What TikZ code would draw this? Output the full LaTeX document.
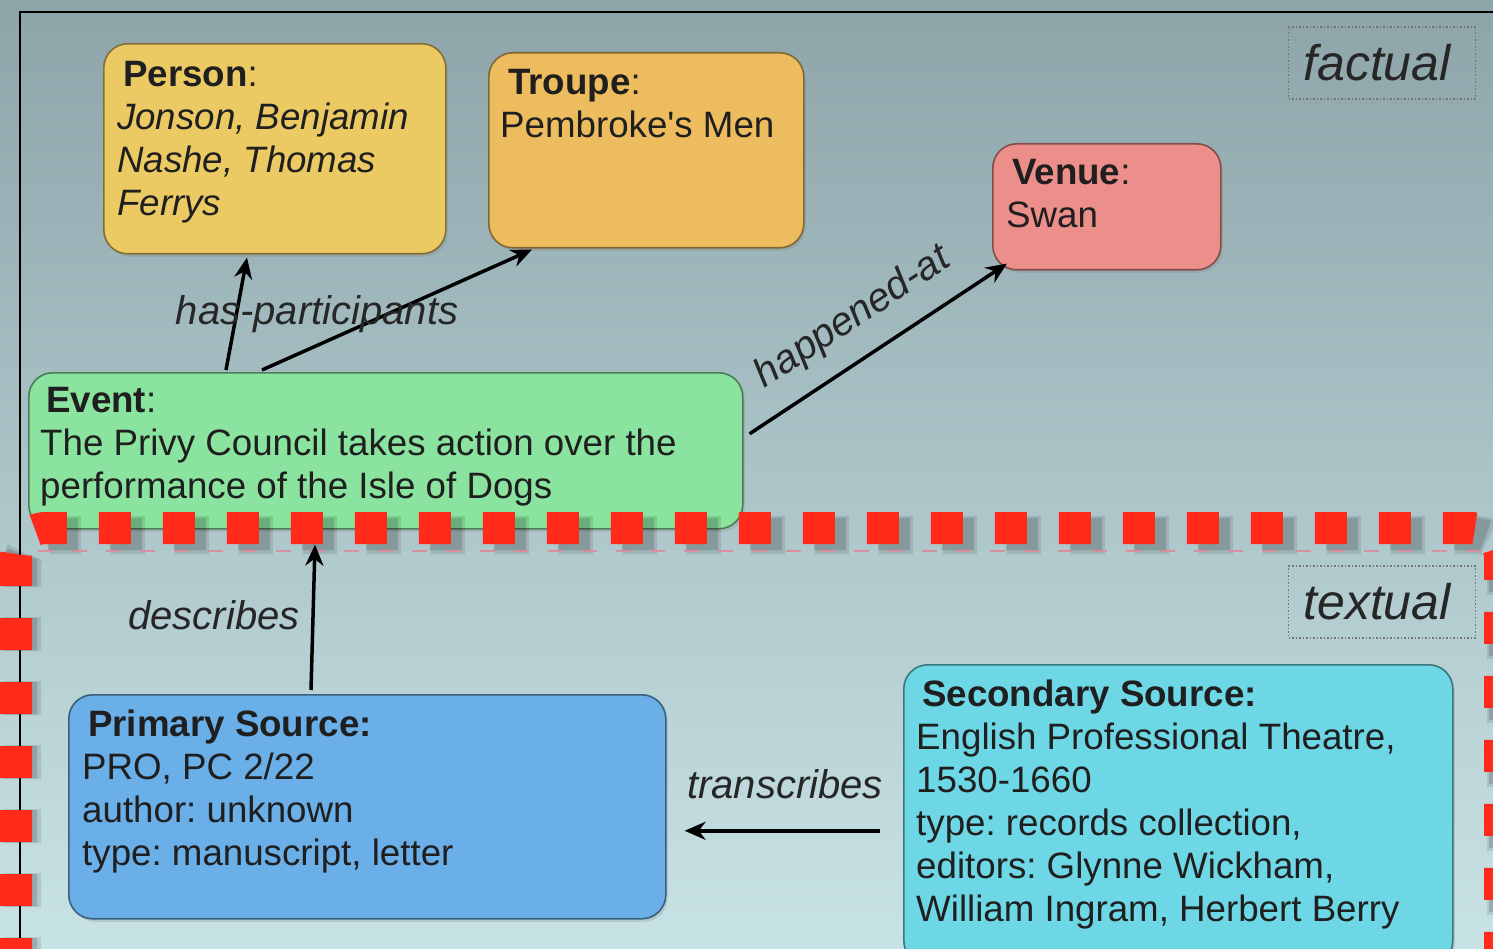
\documentclass[tikz,border=0pt]{standalone}
\usepackage{fontspec}
\setmainfont{Liberation Sans}
\usetikzlibrary{arrows.meta,shadows,calc}
\definecolor{bgtop}{HTML}{8DA4A9}
\definecolor{bgbot}{HTML}{C8E3E6}
\definecolor{personfill}{HTML}{EBCA63}
\definecolor{troupefill}{HTML}{ECBC5E}
\definecolor{venuefill}{HTML}{EC8E8A}
\definecolor{eventfill}{HTML}{8AE39E}
\definecolor{primfill}{HTML}{6AAFE8}
\definecolor{secfill}{HTML}{6DD7E5}
\definecolor{redline}{HTML}{FF2A1A}
\definecolor{pinkline}{HTML}{D9909E}
\frenchspacing
\begin{document}
\begin{tikzpicture}[x=1pt,y=-1pt,
  box/.style={draw=#1!55!black, fill=#1, line width=1.6pt, rounded corners=24pt,
    anchor=north west, inner sep=0pt,
    drop shadow={shadow xshift=2pt, shadow yshift=-3pt, opacity=0.25}},
  txt/.style={anchor=north west, inner sep=0pt, align=left,
    font=\fontsize{36.7}{43}\selectfont, text=black!88},
  lbl/.style={inner sep=0pt, font=\fontsize{40}{46}\selectfont\itshape, text=black!85},
  tag/.style={draw=black!55, dotted, line width=1.5pt, inner sep=0pt,
    minimum width=187pt, minimum height=72pt, font=\fontsize{50}{56}\selectfont\itshape, text=black!85},
  conn/.style={line width=3.5pt, -{Stealth[length=21pt,width=18pt]}}
]
\useasboundingbox (0,0) rectangle (1493,949);
\shade[top color=bgtop, bottom color=bgbot] (0,0) rectangle (1493,949);
\draw[line width=2.5pt, black] (20,949) -- (20,12) -- (1493,12);

% boxes
\node[box=personfill, minimum width=342pt, minimum height=210pt] (person) at (103,43) {};
\node[box=troupefill, minimum width=315pt, minimum height=195pt] (troupe) at (488,52) {};
\node[box=venuefill, minimum width=228pt, minimum height=126pt] (venue) at (992,143) {};
\node[box=eventfill, minimum width=714pt, minimum height=156pt] (event) at (28,372) {};
\node[box=primfill, minimum width=597pt, minimum height=224pt] (primary) at (68,694) {};
\node[box=secfill, minimum width=549pt, minimum height=300pt] (secondary) at (903,664) {};

% texts
\node[txt] (persontext) at (117,61) {\hspace*{6pt}\textbf{Person}:\\\textit{Jonson, Benjamin}\\\textit{Nashe, Thomas}\\\textit{Ferrys}};
\node[txt] (troupetext) at (500,69) {\hspace*{8pt}\textbf{Troupe}:\\Pembroke\textquotesingle s Men};
\node[txt] (venuetext) at (1006,159) {\hspace*{6pt}\textbf{Venue}:\\Swan};
\node[txt] (eventtext) at (40,387) {\hspace*{6pt}\textbf{Event}:\\The Privy Council takes action over the\\performance of the Isle of Dogs};
\node[txt] (primtext) at (82,710) {\hspace*{6pt}\textbf{Primary Source:}\\PRO, PC 2/22\\author: unknown\\type: manuscript, letter};
\node[txt] (sectext) at (916,680) {\hspace*{6pt}\textbf{Secondary Source:}\\English Professional Theatre,\\1530-1660\\type: records collection,\\editors: Glynne Wickham,\\William Ingram, Herbert Berry};

% tags
\node[tag] (factual) at (1382,63) {factual\hspace*{10pt}};
\node[tag] (textual) at (1382,602) {textual\hspace*{10pt}};

% red dashed region with soft shadow
\draw[black, opacity=0.10, line width=38pt, dash pattern=on 34pt off 30pt, dash phase=25pt, rounded corners=30pt]
  (22,1010) -- (22,535) -- (1506,535) -- (1506,1010);
\draw[black, opacity=0.14, line width=32pt, dash pattern=on 32pt off 32pt, dash phase=24pt, rounded corners=30pt]
  (21,1010) -- (21,534) -- (1505,534) -- (1505,1010);
\draw[redline, line width=32pt, dash pattern=on 32pt off 32pt, dash phase=24pt, rounded corners=30pt]
  (16,1010) -- (16,528) -- (1500,528) -- (1500,1010);
\draw[pinkline, line width=2.5pt, dash pattern=on 15pt off 19pt] (38,551) -- (1482,551);

% connectors
\draw[conn] ([shift={(198,-2)}]event.north west) -- ([shift={(144,3)}]person.south west);
\draw[conn] ([shift={(234,-2)}]event.north west) -- ([shift={(44,1)}]troupe.south west);
\draw[conn] ([shift={(6,-17)}]event.east) -- ([shift={(15,-7)}]venue.south west);
\draw[conn] ([shift={(243,-4)}]primary.north west) -- ([shift={(287,15)}]event.south west);
\draw[conn] ([shift={(-23,16)}]secondary.west) -- ([shift={(18,24)}]primary.east);

% labels
\node[lbl] (lhas) at (317,314) {has-participants};
\node[lbl, rotate=33.4] (lhap) at (853,318) {happened-at};
\node[lbl] (ldesc) at (214,615) {describes};
\node[lbl] (ltrans) at (785,784) {transcribes};
\end{tikzpicture}
\end{document}
